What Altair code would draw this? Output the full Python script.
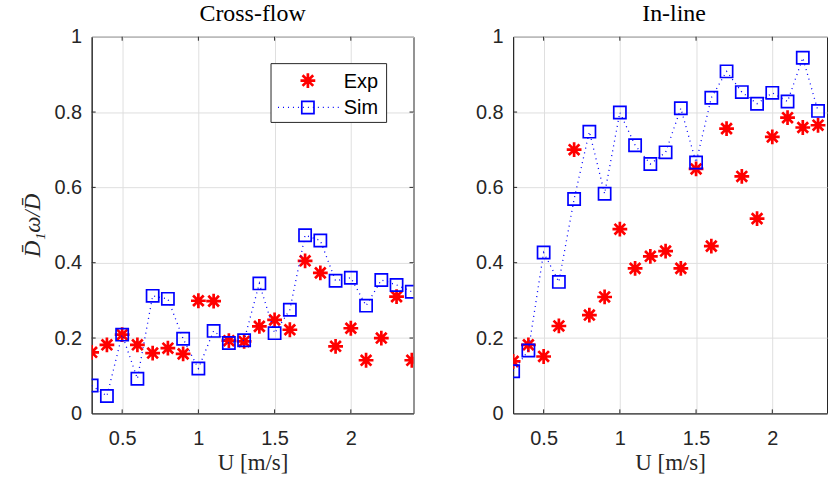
import altair as alt
import pandas as pd

# ---- data ----
u_left = [0.3, 0.4, 0.5, 0.6, 0.7, 0.8, 0.9, 1.0, 1.1, 1.2, 1.3, 1.4, 1.5, 1.6,
          1.7, 1.8, 1.9, 2.0, 2.1, 2.2, 2.3, 2.4]
cf_exp = [0.162, 0.182, 0.209, 0.182, 0.160, 0.173, 0.158, 0.299, 0.298, 0.193, 0.191,
          0.231, 0.248, 0.222, 0.405, 0.373, 0.178, 0.226, 0.141, 0.200, 0.310, 0.141]
cf_sim = [0.074, 0.046, 0.209, 0.092, 0.312, 0.304, 0.198, 0.119, 0.219, 0.187, 0.194,
          0.345, 0.213, 0.275, 0.473, 0.459, 0.352, 0.360, 0.286, 0.354, 0.341, 0.323]

u_right = [0.3, 0.4, 0.5, 0.6, 0.7, 0.8, 0.9, 1.0, 1.1, 1.2, 1.3, 1.4, 1.5, 1.6,
           1.7, 1.8, 1.9, 2.0, 2.1, 2.2, 2.3]
il_exp = [0.138, 0.182, 0.151, 0.232, 0.700, 0.261, 0.309, 0.489, 0.385, 0.417, 0.431,
          0.385, 0.649, 0.444, 0.756, 0.629, 0.517, 0.734, 0.785, 0.759, 0.765]
il_sim = [0.112, 0.167, 0.427, 0.349, 0.569, 0.748, 0.583, 0.799, 0.712, 0.662, 0.693,
          0.810, 0.666, 0.838, 0.908, 0.853, 0.822, 0.851, 0.828, 0.944, 0.803]

series = ["Exp", "Sim"]
panel_titles = ["Cross-flow", "In-line"]
x_ticks = [0.5, 1.0, 1.5, 2.0]
y_ticks = [0.0, 0.2, 0.4, 0.6, 0.8, 1.0]
x_title = "U [m/s]"
y_title = "D\u0304\u2081\u03c9/D\u0304"

# ---- style ----
SANS = "Liberation Sans"
SERIF = "Liberation Serif"
AX = "#262626"
GRID = "#dfdfdf"
RED = "#ff0000"
BLUE = "#0000ff"
ASTERISK = "M-1,0L1,0M0,-1L0,1M-0.72,-0.72L0.72,0.72M-0.72,0.72L0.72,-0.72"
H = 378
W_LEFT = 323
W_RIGHT = 315
TICK = 4


def panel(u, exp, sim, title, width, xmax, left, dx):
    df = pd.DataFrame({"u": u, "exp": exp, "sim": sim})
    xs = alt.Scale(domain=[0.3, xmax], nice=False, zero=False)
    ys = alt.Scale(domain=[0, 1], nice=False)
    xax = alt.Axis(values=x_ticks, format="~g", grid=True, ticks=False,
                   labelPadding=15, titlePadding=3)
    yax = alt.Axis(values=y_ticks, format="~g", grid=True, ticks=False,
                   labelPadding=10, titlePadding=10)
    X = alt.X("u:Q", scale=xs, axis=xax, title=x_title)
    base = alt.Chart(df)
    exp_pts = base.mark_point(shape=ASTERISK, size=220, stroke=RED, strokeWidth=2.7,
                              filled=False, opacity=1, clip=True).encode(
        x=X, y=alt.Y("exp:Q", scale=ys, axis=yax, title=y_title if left else ""))
    sim_line = base.mark_line(color=BLUE, strokeWidth=1.3, strokeDash=[1, 4],
                              clip=True).encode(x=X, y=alt.Y("sim:Q", scale=ys))
    sim_pts = base.mark_point(shape="square", size=150, stroke=BLUE, strokeWidth=1.7,
                              filled=False, opacity=1, clip=True).encode(
        x=X, y=alt.Y("sim:Q", scale=ys))

    xt = pd.DataFrame({"u": x_ticks})
    yt = pd.DataFrame({"v": y_ticks[1:-1]})
    tick_b = alt.Chart(xt).mark_rule(color=AX, strokeWidth=1).encode(
        x=alt.X("u:Q", scale=xs), y=alt.value(H), y2=alt.value(H - TICK))
    tick_t = alt.Chart(xt).mark_rule(color=AX, strokeWidth=1).encode(
        x=alt.X("u:Q", scale=xs), y=alt.value(0), y2=alt.value(TICK))
    tick_l = alt.Chart(yt).mark_rule(color=AX, strokeWidth=1).encode(
        y=alt.Y("v:Q", scale=ys), x=alt.value(0), x2=alt.value(TICK))
    layers = [tick_b, tick_t, tick_l]
    if left:
        tick_r = alt.Chart(yt).mark_rule(color=AX, strokeWidth=1).encode(
            y=alt.Y("v:Q", scale=ys), x=alt.value(width), x2=alt.value(width - TICK))
        layers.append(tick_r)
    layers += [exp_pts, sim_line, sim_pts]

    if left:
        leg = pd.DataFrame({"name": series})
        box = alt.Chart(leg.head(1)).mark_rect(fill="white", stroke=AX, strokeWidth=1).encode(
            x=alt.value(180), x2=alt.value(296), y=alt.value(27), y2=alt.value(86))
        le_exp = alt.Chart(leg.head(1)).mark_point(shape=ASTERISK, size=220, stroke=RED,
                                                   strokeWidth=2.7, filled=False, opacity=1).encode(
            x=alt.value(217), y=alt.value(44))
        le_line = alt.Chart(leg.tail(1)).mark_rule(color=BLUE, strokeWidth=1.3,
                                                   strokeDash=[1, 4]).encode(
            x=alt.value(187), x2=alt.value(248), y=alt.value(71))
        le_sim = alt.Chart(leg.tail(1)).mark_point(shape="square", size=150, stroke=BLUE,
                                                   strokeWidth=1.7, filled=False, opacity=1).encode(
            x=alt.value(217), y=alt.value(71))
        le_t1 = alt.Chart(leg.head(1)).mark_text(font=SANS, fontSize=20, align="left",
                                                 baseline="middle", color="black").encode(
            x=alt.value(253), y=alt.value(45), text="name:N")
        le_t2 = alt.Chart(leg.tail(1)).mark_text(font=SANS, fontSize=20, align="left",
                                                 baseline="middle", color="black").encode(
            x=alt.value(253), y=alt.value(72), text="name:N")
        layers += [box, le_line, le_exp, le_sim, le_t1, le_t2]

    return alt.layer(*layers).properties(
        width=width, height=H,
        title=alt.TitleParams(title, font=SERIF, fontSize=24, fontWeight="normal",
                              color="black", offset=1, dx=dx))


left_chart = panel(u_left, cf_exp, cf_sim, panel_titles[0], W_LEFT, 0.3 + W_LEFT / 153, True, 0)
right_chart = panel(u_right, il_exp, il_sim, panel_titles[1], W_RIGHT, 0.3 + W_RIGHT / 153, False, 4)

chart = alt.hconcat(left_chart, right_chart, spacing=100, bounds="flush").properties(
    padding={"left": 20, "top": 0, "right": 0, "bottom": 0},
    background="white"
).configure_view(
    stroke=AX, strokeWidth=1
).configure_axis(
    labelFont=SANS, labelFontSize=20, labelColor=AX,
    titleFont=SERIF, titleFontSize=23, titleFontWeight="normal", titleColor=AX,
    domainColor=AX, domainWidth=1, gridColor=GRID, gridWidth=1
).configure_axisY(
    titleFontStyle="italic"
)

chart.save("out.html", embed_options={"renderer": "svg", "actions": False})
